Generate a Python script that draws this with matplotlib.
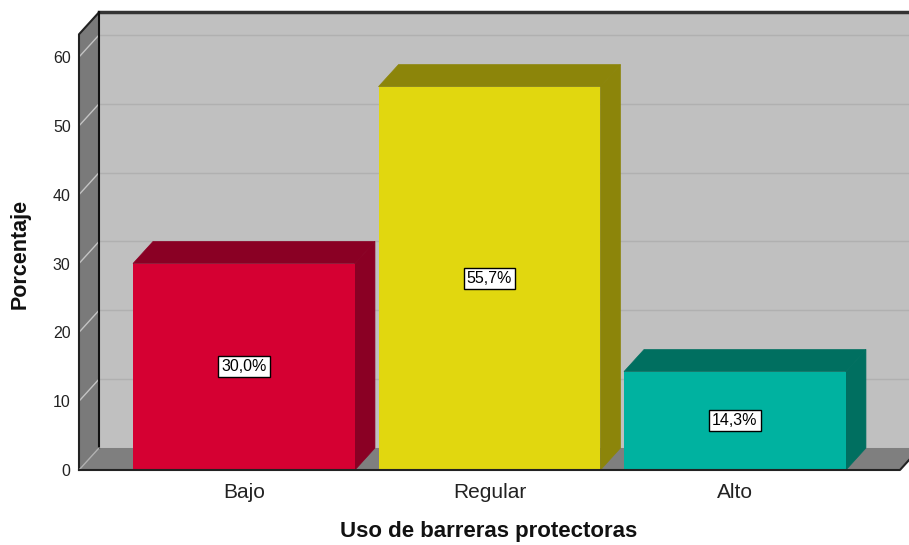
import matplotlib.pyplot as plt
from matplotlib.patches import Polygon
import numpy as np

categorias = ['Bajo', 'Regular', 'Alto']
porcentajes = [30.0, 55.7, 14.3]
etiquetas = ['30,0%', '55,7%', '14,3%']
yticks = [0, 10, 20, 30, 40, 50, 60]

col_frente = ['#D50032', '#E1D70F', '#00B2A0']
col_oscuro = ['#8A0024', '#8C850A', '#006F60']

plt.rcParams['font.family'] = ['Liberation Sans', 'DejaVu Sans']

fig = plt.figure(figsize=(9.09, 5.45), dpi=100)
ax = fig.add_axes([79/909, 75/545, 830/909, 470/545])
x0, x1 = -0.672, 2.672     # front floor edges
ax.set_xlim(x0, x0 + 830/245.5)
ax.set_ylim(0, 470/6.883)
for s in ax.spines.values():
    s.set_visible(False)
ax.patch.set_visible(False)

dx, dy = 0.0815, 3.2    # depth offset
ytop = 63.3

# back wall
ax.add_patch(Polygon([(x0+dx, dy), (x1+dx+0.2, dy), (x1+dx+0.2, ytop+dy), (x0+dx, ytop+dy)],
                     closed=True, facecolor='#C0C0C0', edgecolor='none', zorder=1, clip_on=False))
# left wall
ax.add_patch(Polygon([(x0, 0), (x0, ytop), (x0+dx, ytop+dy), (x0+dx, dy)],
                     closed=True, facecolor='#7A7A7A', edgecolor='none', zorder=1, clip_on=False))
# floor
ax.add_patch(Polygon([(x0, 0), (x0+dx, dy), (x1+dx, dy), (x1, 0)],
                     closed=True, facecolor='#7F7F7F', edgecolor='none', zorder=1, clip_on=False))

# grid
for v in yticks[1:]:
    ax.plot([x0+dx, x1+dx+0.2], [v+dy, v+dy], color='#B0B0B0', lw=1, zorder=2, clip_on=False)
    ax.plot([x0, x0+dx], [v, v+dy], color='#C4C4C4', lw=1, zorder=2, clip_on=False)

# edges
ax.plot([x0+dx, x1+dx+0.2], [ytop+dy, ytop+dy], color='#333333', lw=2.5, zorder=3, clip_on=False)
ax.plot([x0, x0, x0+dx], [0, ytop, ytop+dy], color='#222222', lw=1.5, zorder=3, clip_on=False)
ax.plot([x0+dx, x0+dx], [dy, ytop+dy], color='#111111', lw=1.5, zorder=3, clip_on=False)
ax.plot([x0, x0+dx], [0, dy], color='#B0B0B0', lw=1, zorder=3, clip_on=False)
ax.plot([x0, x1, x1+dx], [0, 0, dy], color='#222222', lw=1.5, zorder=6, clip_on=False)

# bars
xs = np.arange(len(categorias))
w = 0.904
bars = ax.bar(xs, porcentajes, width=w, color=col_frente, zorder=5, edgecolor='none')
for b, c in zip(bars, col_oscuro):
    l, r, h = b.get_x(), b.get_x() + b.get_width(), b.get_height()
    ax.add_patch(Polygon([(l, h), (l+dx, h+dy), (r+dx, h+dy), (r, h)], closed=True,
                         facecolor=c, edgecolor=c, lw=0.5, zorder=4))
    ax.add_patch(Polygon([(r, 0), (r, h), (r+dx, h+dy), (r+dx, dy)], closed=True,
                         facecolor=c, edgecolor=c, lw=0.5, zorder=4))

for xi, v, t in zip(xs, porcentajes, etiquetas):
    ax.text(xi, v/2, t, ha='center', va='center', fontsize=11.5, zorder=7,
            bbox=dict(boxstyle='square,pad=0.2', facecolor='white', edgecolor='black', lw=1))

ax.set_yticks(yticks)
ax.set_yticklabels([str(v) for v in yticks], fontsize=11.5, color='#222222')
ax.set_xticks(xs)
ax.set_xticklabels(categorias, fontsize=15, color='#222222')
ax.tick_params(axis='both', length=0)
ax.tick_params(axis='y', pad=6)
ax.tick_params(axis='x', pad=9)

fig.text(488.5/909, (545-532)/545, 'Uso de barreras protectoras', ha='center', va='center',
         fontsize=16, fontweight='bold', color='#111111')
fig.text(20/909, (545-253.5)/545, 'Porcentaje', ha='center', va='center', rotation=90,
         fontsize=15.5, fontweight='bold', color='#111111')

fig.savefig('out.png', dpi=100)
